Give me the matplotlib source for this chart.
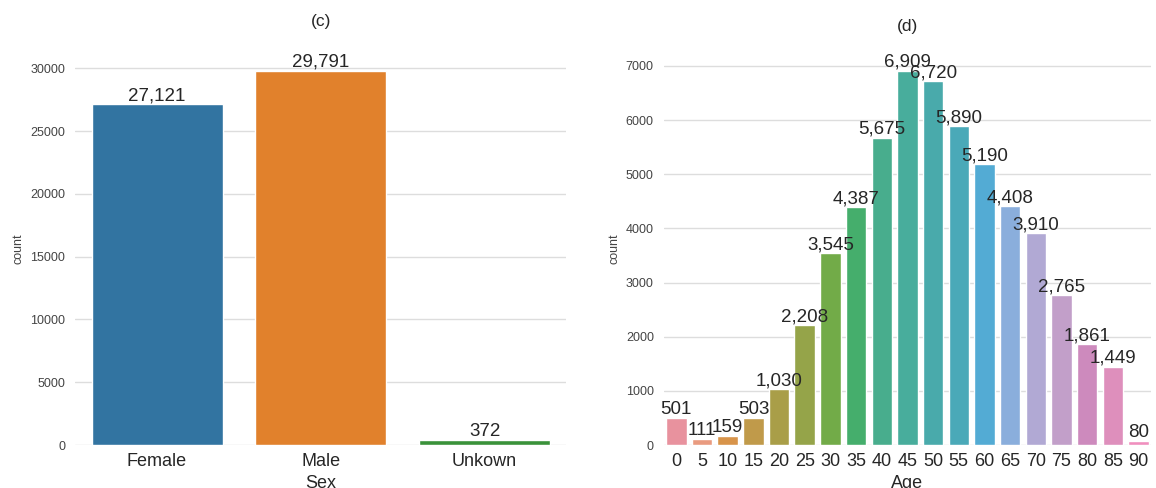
import numpy as np
import matplotlib
matplotlib.use("Agg")
import matplotlib.pyplot as plt
import seaborn as sns

sex_labels = ["Female", "Male", "Unkown"]
sex_counts = [27121, 29791, 372]

age_labels = ["0", "5", "10", "15", "20", "25", "30", "35", "40", "45",
              "50", "55", "60", "65", "70", "75", "80", "85", "90"]
age_counts = [501, 111, 159, 503, 1030, 2208, 3545, 4387, 5675, 6909,
              6720, 5890, 5190, 4408, 3910, 2765, 1861, 1449, 80]

# muted husl-like colours, one per age group
age_colors = ["#e8929e", "#e99b80", "#d8944a", "#c09a4a", "#a99e48", "#95a449",
              "#72ab48", "#45ae6c", "#48ad8d", "#48ad9c", "#49aaab", "#4aa9b8",
              "#53abd4", "#8aaedc", "#b1a9d4", "#c29fc9", "#cd8abd", "#de8fbc",
              "#f08fbe"]

sns.set_style("whitegrid")
plt.rcParams['font.family'] = ['Liberation Sans', 'DejaVu Sans']

fig = plt.figure(figsize=(11.56, 4.88), dpi=100)
ax1 = fig.add_axes([0.065, 0.088, 0.425, 0.805])
ax2 = fig.add_axes([0.574, 0.088, 0.422, 0.805])


def draw_counts(ax, labels, counts, colors, title, xlabel, title_pad):
    x = np.arange(len(labels))
    bars = ax.bar(x, counts, width=0.8, color=colors, edgecolor="white", linewidth=1)
    for b, v in zip(bars, counts):
        ax.text(b.get_x() + b.get_width() / 2, v, f"{v:,}", ha="center", va="bottom",
                fontsize=13.5, color="#262626")
    ax.set_xlim(-0.5, len(labels) - 0.5)
    ax.set_ylim(0, max(counts) * 1.05)
    ax.set_xticks(x)
    ax.set_xticklabels(labels, fontsize=13, color="#262626")
    ax.tick_params(axis="x", pad=6, length=0)
    ax.tick_params(axis="y", labelsize=9, labelcolor="#444444", length=0, pad=7)
    ax.grid(axis="x", visible=False)
    ax.grid(axis="y", color="#dddddd", linewidth=1)
    ax.set_axisbelow(True)
    for s in ax.spines.values():
        s.set_visible(False)
    ax.set_title(title, fontsize=12.5, pad=title_pad, color="#262626")
    ax.set_xlabel(xlabel, fontsize=13, labelpad=3, color="#262626")
    ax.set_ylabel("count", fontsize=9, color="#444444")


sex_colors = sns.color_palette(desat=0.75)[:3]

draw_counts(ax1, sex_labels, sex_counts, sex_colors, "(c)", "Sex", 19)
draw_counts(ax2, age_labels, age_counts, age_colors, "(d)", "Age", 15)

fig.savefig("out.png", dpi=100)
